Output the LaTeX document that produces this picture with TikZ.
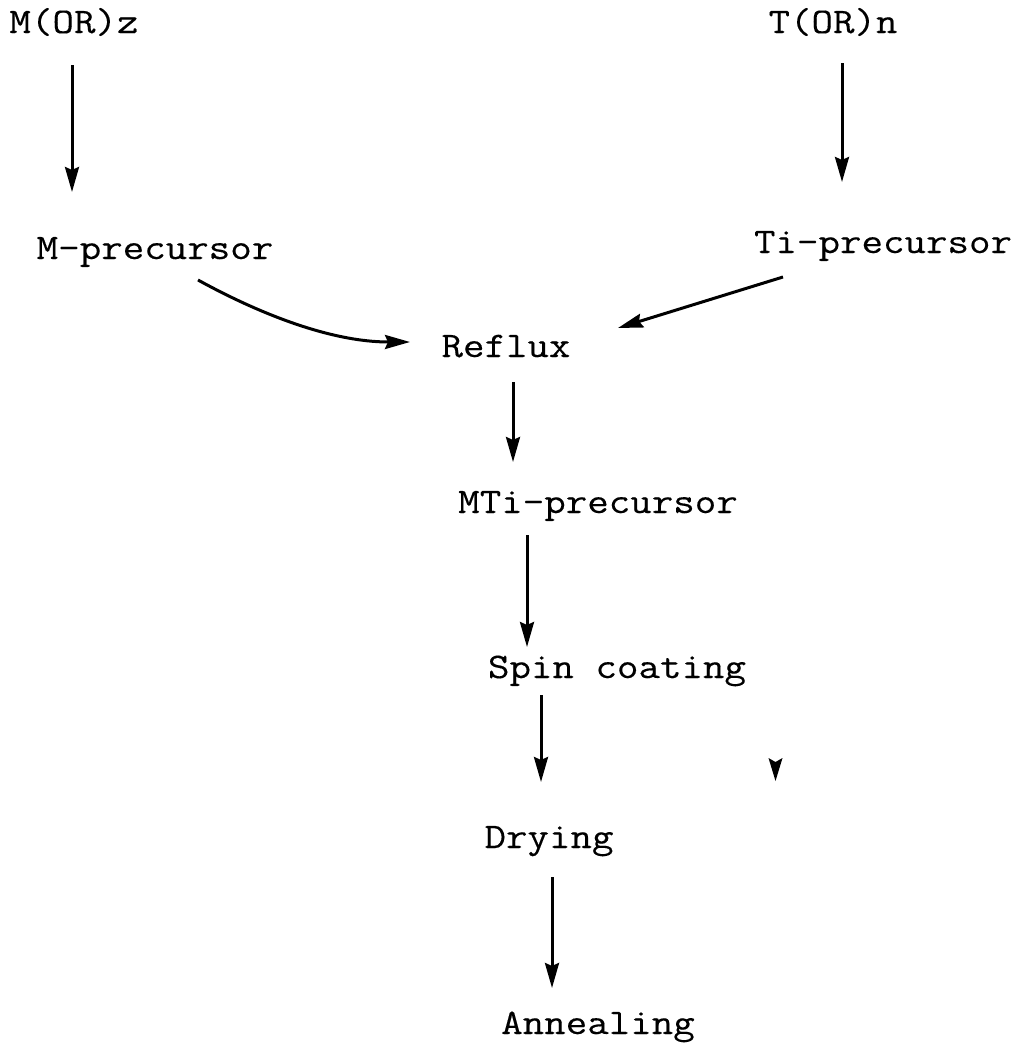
\documentclass[tikz,border=0pt]{standalone}
\usepackage{fontspec}
\setmonofont{Latin Modern Mono}[FakeStretch=1.16,FakeBold=0.3]
\usetikzlibrary{arrows.meta,calc}
\begin{document}
\begin{tikzpicture}[x=1pt,y=-1pt,
  lbl/.style={font=\fontsize{36}{40}\selectfont\ttfamily, inner sep=0pt, anchor=base},
  arr/.style={line width=3pt, -{Stealth[length=25pt,width=14pt,inset=3pt]}}]
\useasboundingbox (0,0) rectangle (1023,1044);

% process steps
\node[lbl] (mor)   at (74,33)   {M(OR)z};
\node[lbl] (tor)   at (833,33)  {T(OR)n};
\node[lbl] (mprec) at (155,259) {M-precursor};
\node[lbl] (tprec) at (883,253) {Ti-precursor};
\node[lbl] (reflux) at (506,357) {Reflux};
\node[lbl] (mti)   at (598,513) {MTi-precursor};
\node[lbl] (spin)  at (617,678) {Spin coating};
\node[lbl] (dry)   at (549,848) {Drying};
\node[lbl] (ann)   at (598,1034) {Annealing};

% connectors
\draw[arr] ([shift={(-2,32)}]mor.base) -- ([shift={(-83,-67)}]mprec.base);
\draw[arr] ([shift={(9,30)}]tor.base) -- ([shift={(-41,-71)}]tprec.base);
\draw[arr] ([shift={(43,21)}]mprec.base) .. controls +(60,33) and +(-80,0) .. ([shift={(-96,-15)}]reflux.base);
\draw[arr] ([shift={(-100,24)}]tprec.base) -- ([shift={(112,-29)}]reflux.base);
\draw[arr] ([shift={(7,25)}]reflux.base) -- ([shift={(-85,-51)}]mti.base);
\draw[arr] ([shift={(-71,22)}]mti.base) -- ([shift={(-90,-31)}]spin.base);
\draw[arr] ([shift={(-76,17)}]spin.base) -- ([shift={(-8,-66)}]dry.base);
\draw[arr] ([shift={(3,29)}]dry.base) -- ([shift={(-46,-46)}]ann.base);

% lone arrowhead
\fill (768.5,758) -- (775.5,762) -- (782.5,758) -- (775.5,781) -- cycle;
\end{tikzpicture}
\end{document}
